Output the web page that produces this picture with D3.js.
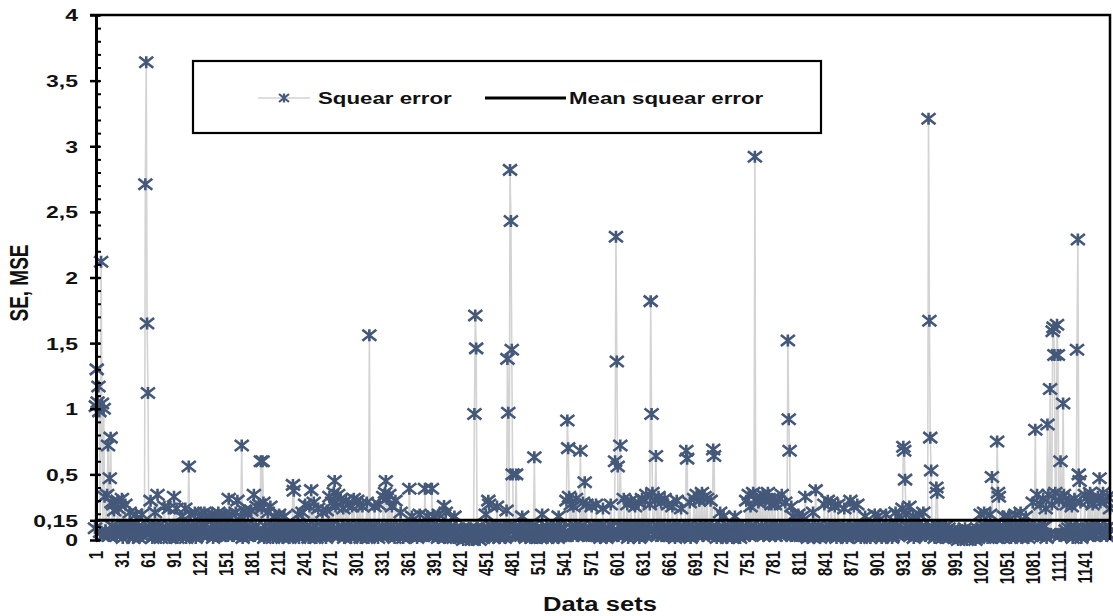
<!DOCTYPE html>
<html>
<head>
<meta charset="UTF-8">
<script src="https://d3js.org/d3.v7.min.js"></script>
<style>
  body { margin: 0; background: #fff; }
  text { font-family: "Liberation Sans", Arial, sans-serif; font-weight: bold; fill: #111; }
</style>
</head>
<body>
<svg id="chart"></svg>
<script>
// low squared-error values, one letter per data set (a = 0, each next letter +0.015), 30 per row
const baseRows = [
  "gdvhqbeuhc" + "rwfdxgcobt" + "hspdgcuqfe",
  "gvbhesdhfc" + "ohdgbfcnde" + "hbfdnceguq",
  "tsfdugbhco" + "fdxhcebgdf" + "rcgdeqbhcf",
  "dwcgqbehfd" + "mcheqbdgcf" + "ndhcfobdge",
  "mdgnchodfl" + "cemdgnbhcm" + "dfocgmehdn",
  "dgmcvfhdnc" + "egoduchfmd" + "bgpdhcnfed",
  "pdgxchrdfs" + "cgqdtbhedo" + "cfrdgbhmdc",
  "gdnchebgmd" + "fcdhbgdhcz" + "dgecnbhdfo",
  "cgsdhebrdf" + "cgtdhbeqdc" + "fhodgcbpdh",
  "wdhtcyfrdg" + "xcevdhqbfu" + "dhscgbrdvf",
  "cguehsbdrg" + "cfhtdbqdgc" + "ehrdgcbsdf",
  "chwdyfvcgx" + "dhrcgbudfe" + "chodgbdfcg",
  "dgbhcmdfce" + "gbhcndgfce" + "bhdmcgedfc",
  "mcgdhbnedf" + "cghbodcfeg" + "hcdbmgcefd",
  "cebgadcfbe" + "dbgcaefbdc" + "gbeadcfbgc",
  "ndgcscfhdb" + "gecrdfbhcd" + "egbcpdfhcg",
  "qcgdhbedcf" + "gcmdfhbedc" + "gdfbhcedbg",
  "cfdbgnecfd" + "hbgcedfbgc" + "edhbmcgfdc",
  "gdcuhfwdsg" + "crdhvcfgdb" + "hdtcgesdfc",
  "gdrchedsgc" + "fdbheqcgdb" + "ecgdschfdg",
  "dfuchrdgcv" + "hdfsbgcudh" + "efrcgdtbhc",
  "vdgucxdhfs" + "cfydguehcw" + "dgtcfhvdec",
  "sdgcfrdhbe" + "udgchqdfce" + "gdrchtbfdg",
  "vdgxcfuhdy" + "cgwdhvfcdu" + "ehcnfdbgdc",
  "odfcmdgebh" + "cfdgbecmdh" + "fcebgdhcfe",
  "udgxcrhdyf" + "cgvdtewdhx" + "cfudgyvchs",
  "vdgschfudh" + "cxfgdtehcf" + "gdrcmdhfce",
  "ndgchmfdwc" + "ebhgdcfobd" + "gcfhdbegdc",
  "sdgcufhdte" + "cgrdbhscfd" + "gchqdfbedg",
  "udgcrhfdsc" + "egbhcdfmdg" + "chebdgfcnd",
  "gcmdhfbecg" + "dncfgehdbc" + "fgodhcmefd",
  "qdgcnhfdrc" + "gdmbhcedfn" + "cghdoecfdg",
  "dgcnhfdbec" + "gdhcfebgdc" + "hfdgbecfdc",
  "cebdacfbdc" + "ebgcadfcbe" + "dbcfaegbdc",
  "ndgcohfdbe" + "cngdhfcebg" + "dohcfdbmeg",
  "cfmdgbhecd" + "ngcfdhobeg" + "dcmfhbgecd",
  "tdgucxfhds" + "gdvchqbfxd" + "gdscfhydcr",
  "ucgdwhxdfs" + "cgudhrbfvd" + "gcrdhtbfdg",
  "xdgcudyfhs" + "cdvgewhdtc" + "fydgucwdhq"
];
const letters = "abcdefghijklmnopqrstuvwxyz";

// [data set, squared error] for the larger values
const peaks = [
  [2, 1.02], [3, 1.3], [4, 1.05], [5, 1.17], [6, 0.98], [8, 2.12], [9, 1.04], [11, 1.0],
  [16, 0.72], [18, 0.47], [19, 0.78],
  [59, 2.71], [60, 3.64], [61, 1.65], [62, 1.12],
  [109, 0.56], [170, 0.72], [192, 0.6], [194, 0.6], [229, 0.42], [250, 0.38], [277, 0.45],
  [317, 1.56], [336, 0.45], [363, 0.39], [381, 0.39], [389, 0.39], [403, 0.26],
  [438, 0.96], [439, 1.71], [440, 1.46], [454, 0.3],
  [476, 1.38], [477, 0.97], [479, 2.82], [480, 2.43], [481, 1.45], [482, 0.5], [486, 0.5],
  [507, 0.63], [545, 0.91], [546, 0.7], [560, 0.68], [565, 0.44],
  [600, 0.6], [601, 2.31], [602, 1.36], [603, 0.56], [606, 0.72],
  [641, 1.82], [642, 0.96], [647, 0.64], [682, 0.68], [683, 0.62], [713, 0.69], [714, 0.64],
  [761, 2.92], [799, 1.52], [800, 0.92], [801, 0.68], [831, 0.38],
  [932, 0.71], [933, 0.68], [934, 0.46],
  [961, 3.21], [962, 1.67], [963, 0.78], [964, 0.53], [970, 0.4], [971, 0.36],
  [1034, 0.48], [1040, 0.75], [1041, 0.36], [1042, 0.33], [1084, 0.84], [1098, 0.88],
  [1101, 1.15], [1104, 1.59], [1105, 1.62], [1106, 1.41], [1109, 1.64], [1110, 1.41],
  [1113, 0.6], [1116, 1.04], [1132, 1.45], [1133, 2.29], [1134, 0.5], [1135, 0.45], [1158, 0.47]
];

const meanSquearError = 0.15;
const xTickLabels = [1, 31, 61, 91, 121, 151, 181, 211, 241, 271, 301, 331, 361, 391, 421, 451,
  481, 511, 541, 571, 601, 631, 661, 691, 721, 751, 781, 811, 841, 871, 901, 931, 961, 991,
  1021, 1051, 1081, 1111, 1141];
const yTickLabels = [0, 0.15, 0.5, 1, 1.5, 2, 2.5, 3, 3.5, 4];
const seriesNames = ["Squear error", "Mean squear error"];

const squearError = baseRows.join("").split("").map(c => letters.indexOf(c) * 0.015);
peaks.forEach(([i, v]) => { squearError[i - 1] = v; });
const data = squearError.map((v, i) => ({ i: i + 1, v: v }));

const width = 1113, height = 616;
const sx = 1.35;   // the source picture is stretched horizontally
const markerColor = "#44587a";
const lineColor = "#d3d3d3";

const svg = d3.select("#chart").attr("width", width).attr("height", height);

const x = d3.scaleLinear().domain([1, 1170]).range([95, 1110]);
const y = d3.scaleLinear().domain([0, 4]).range([540, 15]);

const star = "M-7,-5.5L7,5.5M-7,5.5L7,-5.5M0,-6L0,6";

// squared error line + markers
svg.append("path")
  .datum(data)
  .attr("fill", "none")
  .attr("stroke", lineColor)
  .attr("stroke-width", 1.6)
  .attr("d", d3.line().x(d => x(d.i)).y(d => y(d.v)));

svg.append("g").selectAll("path")
  .data(data)
  .enter()
  .append("path")
  .attr("d", star)
  .attr("transform", d => `translate(${x(d.i)},${y(d.v)})`)
  .attr("fill", "none")
  .attr("stroke", markerColor)
  .attr("stroke-width", 2.6);

// mean squared error
svg.append("line")
  .attr("x1", 96).attr("x2", 1110)
  .attr("y1", y(meanSquearError)).attr("y2", y(meanSquearError))
  .attr("stroke", "#000").attr("stroke-width", 3);

// frame top and right
svg.append("path")
  .attr("d", `M90,${y(4)}H1110V${y(0)}`)
  .attr("fill", "none").attr("stroke", "#000").attr("stroke-width", 2.5);

// y axis: minor ticks + axis line
const yMinor = svg.append("g").attr("transform", "translate(96,0)")
  .call(d3.axisLeft(y).tickValues(d3.range(0, 41).map(k => k / 10)).tickSize(-5).tickSizeOuter(0).tickFormat(""));
yMinor.select(".domain").attr("stroke", "#000").attr("stroke-width", 3);
yMinor.selectAll(".tick line").attr("stroke", "#000").attr("stroke-width", 2);

// y axis: major ticks + labels
const yAxis = svg.append("g").attr("transform", "translate(96,0)")
  .call(d3.axisLeft(y).tickValues(yTickLabels).tickSize(6)
    .tickFormat(d => String(d).replace(".", ",")));
yAxis.select(".domain").remove();
yAxis.selectAll(".tick line").attr("x1", 4).attr("x2", -6).attr("stroke", "#000").attr("stroke-width", 2.5);
yAxis.selectAll(".tick text")
  .attr("x", 0).attr("dy", "0.35em")
  .attr("transform", `translate(-18,0) scale(${sx},1)`)
  .style("font-size", "17px");

// x axis labels
const xAxis = svg.append("g").attr("transform", "translate(0,551)")
  .call(d3.axisBottom(x).tickValues(xTickLabels).tickSize(0).tickPadding(0).tickFormat(d => String(d)));
xAxis.select(".domain").remove();
xAxis.selectAll(".tick text")
  .attr("y", 0).attr("dy", "0.35em")
  .attr("text-anchor", "end")
  .attr("transform", `scale(${sx},1) rotate(-90)`)
  .style("font-size", "15px");

// axis titles
svg.append("text")
  .attr("transform", `translate(28,283) scale(${sx},1) rotate(-90)`)
  .attr("text-anchor", "middle")
  .style("font-size", "19px")
  .text("SE, MSE");

svg.append("text")
  .attr("transform", "translate(600,611) scale(1.28,1)")
  .attr("text-anchor", "middle")
  .style("font-size", "20px")
  .text("Data sets");

// legend
const legend = svg.append("g");
legend.append("rect")
  .attr("x", 193).attr("y", 61).attr("width", 628).attr("height", 72)
  .attr("fill", "#fff").attr("stroke", "#000").attr("stroke-width", 2.2);
legend.append("line")
  .attr("x1", 258).attr("x2", 310).attr("y1", 98).attr("y2", 98)
  .attr("stroke", lineColor).attr("stroke-width", 1.6);
legend.append("path")
  .attr("d", "M-5,-4L5,4M-5,4L5,-4M0,-4.5L0,4.5")
  .attr("transform", "translate(284,98)")
  .attr("fill", "none").attr("stroke", markerColor).attr("stroke-width", 2.2);
legend.append("text")
  .attr("transform", `translate(318,104) scale(${sx},1)`)
  .style("font-size", "16.5px")
  .text(seriesNames[0]);
legend.append("line")
  .attr("x1", 485).attr("x2", 566).attr("y1", 98).attr("y2", 98)
  .attr("stroke", "#000").attr("stroke-width", 3);
legend.append("text")
  .attr("transform", `translate(569,104) scale(${sx},1)`)
  .style("font-size", "16.5px")
  .text(seriesNames[1]);
</script>
</body>
</html>
